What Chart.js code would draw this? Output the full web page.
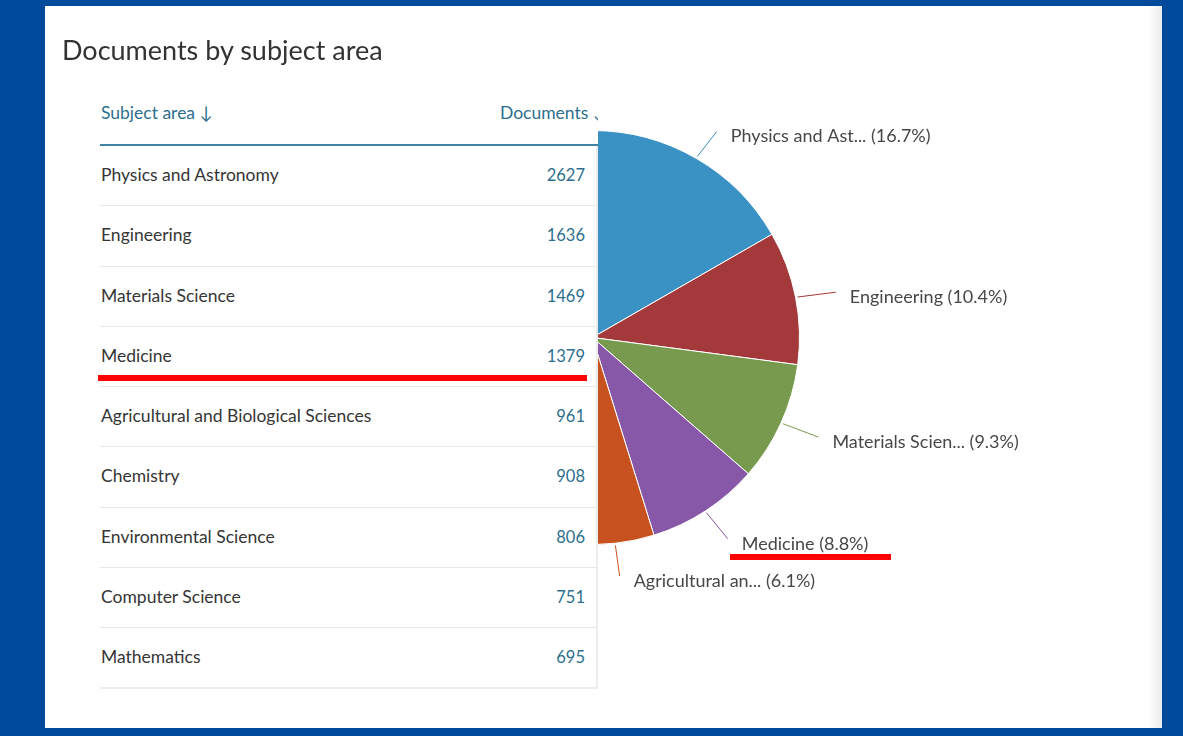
<!DOCTYPE html>
<html>
<head>
<meta charset="utf-8">
<script src="https://cdn.jsdelivr.net/npm/chart.js@4.4.1/dist/chart.umd.min.js"></script>
<style>
  html, body { margin: 0; padding: 0; width: 1183px; height: 736px; overflow: hidden; background: #004a9c; font-family: Lato, "Open Sans", sans-serif; }
  #panel { position: absolute; left: 45px; top: 6px; width: 1117px; height: 722px; background: #ffffff; overflow: hidden; }
  #edge { position: absolute; right: 0; top: 0; width: 14px; height: 100%; background: linear-gradient(to right, rgba(240,240,240,0), #ececec); }
  #chart { position: absolute; left: 0; top: 0; }
  #title { position: absolute; left: 17px; top: 27px; font-size: 27px; color: #333333; white-space: nowrap; }
  #table { position: absolute; left: 55px; top: 88px; width: 498px; background: #fff; z-index: 2; overflow: hidden; }
  #thead { position: relative; height: 50px; border-bottom: 2px solid #3f82a2; }
  #thead .h1 { position: absolute; left: 1px; top: 8px; font-size: 17.5px; color: #2d6f8e; }
  #thead .h2 { position: absolute; left: 400px; top: 8px; font-size: 17.5px; color: #2d6f8e; white-space: nowrap; }
  #rows { border-right: 2px solid #ececec; border-bottom: 2px solid #ececec; }
  .row { position: relative; height: 59.25px; border-bottom: 1px solid #e8e8e8; }
  .row:last-child { border-bottom: none; }
  .row .s { position: absolute; left: 1px; top: 18px; font-size: 17.5px; color: #353535; }
  .row .n { position: absolute; right: 11px; top: 19px; font-size: 16.5px; color: #2d6f8e; }
  .red { position: absolute; background: #ff0000; z-index: 3; }
</style>
</head>
<body>
<div id="panel">
  <canvas id="chart" width="1117" height="722"></canvas>
  <div id="edge"></div>
  <div id="title">Documents by subject area</div>
  <div id="table"></div>
  <div class="red" style="left:53px; top:369px; width:489px; height:6px;"></div>
  <div class="red" style="left:685px; top:548px; width:161px; height:6px;"></div>
</div>
<script>
// Subject areas shown in the table (sorted by documents)
const subjects = [
  'Physics and Astronomy',
  'Engineering',
  'Materials Science',
  'Medicine',
  'Agricultural and Biological Sciences',
  'Chemistry',
  'Environmental Science',
  'Computer Science',
  'Mathematics'
];
const documents = [2627, 1636, 1469, 1379, 961, 908, 806, 751, 695];
// Remaining subject areas (hidden behind the table), estimated from the shown percentages
const otherLabel = 'Other';
const otherDocuments = 4500;

const sliceColors = ['#3a91c4', '#a3393a', '#789a4f', '#8758a8', '#c8521f', '#3fa6a0', '#d4a23a', '#5a6fb0', '#b45c8e', '#9aa0a6'];

// Build the table
const table = document.getElementById('table');
let html = '<div id="thead"><span class="h1">Subject area &#8595;</span><span class="h2">Documents &#8595;</span></div><div id="rows">';
subjects.forEach((s, i) => {
  html += '<div class="row"><span class="s">' + s + '</span><span class="n">' + documents[i] + '</span></div>';
});
html += '</div>';
table.innerHTML = html;

const pieLabels = subjects.concat([otherLabel]);
const pieValues = documents.concat([otherDocuments]);
const total = pieValues.reduce((a, b) => a + b, 0);

function shortName(s) {
  return s.length > 15 ? s.slice(0, 15) + '...' : s;
}

// Outside labels with connectors, laid out on a slightly flattened ring
const outsideLabels = {
  id: 'outsideLabels',
  afterDatasetsDraw(chart) {
    const ctx = chart.ctx;
    const meta = chart.getDatasetMeta(0);
    const ds = chart.data.datasets[0];
    ctx.save();
    ctx.font = '18px Lato, "Open Sans", sans-serif';
    ctx.textBaseline = 'middle';
    ctx.textAlign = 'left';
    meta.data.forEach((arc, i) => {
      const p = arc.getProps(['x', 'y', 'startAngle', 'endAngle', 'outerRadius'], true);
      const mid = (p.startAngle + p.endAngle) / 2;
      const c = Math.cos(mid), s = Math.sin(mid);
      if (c <= 0) return;
      const x1 = p.x + c * (p.outerRadius + 2), y1 = p.y + s * (p.outerRadius + 2);
      const x2 = p.x + c * (p.outerRadius + 41), y2 = p.y + s * (p.outerRadius + 32) + 1;
      ctx.strokeStyle = ds.backgroundColor[i];
      ctx.lineWidth = 1;
      ctx.beginPath();
      ctx.moveTo(x1, y1);
      ctx.lineTo(x2, y2);
      ctx.stroke();
      const pct = (ds.data[i] / total * 100).toFixed(1);
      ctx.fillStyle = '#474747';
      ctx.fillText(shortName(chart.data.labels[i]) + ' (' + pct + '%)', x2 + 14, y2 + 5);
    });
    ctx.restore();
  }
};

new Chart(document.getElementById('chart'), {
  type: 'pie',
  data: {
    labels: pieLabels,
    datasets: [{
      data: pieValues,
      backgroundColor: sliceColors,
      borderColor: '#ffffff',
      borderWidth: 1
    }]
  },
  options: {
    responsive: false,
    animation: false,
    layout: { padding: { left: 340, right: 362, top: 124, bottom: 183 } },
    plugins: { legend: { display: false }, tooltip: { enabled: false } }
  },
  plugins: [outsideLabels]
});
</script>
</body>
</html>
